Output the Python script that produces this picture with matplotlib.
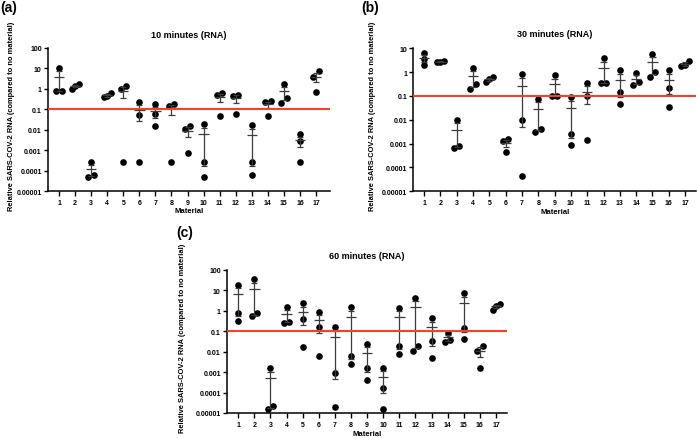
import numpy as np
import matplotlib
matplotlib.use("Agg")
import matplotlib.pyplot as plt
from matplotlib.ticker import FixedLocator, FixedFormatter, NullLocator

plt.rcParams['font.family'] = ['Liberation Sans', 'DejaVu Sans']
plt.rcParams['font.weight'] = 'bold'

materials = list(range(1, 18))

# three replicates per material, relative to no material
rna_10min = [
    [10, 0.8, 0.8], [1.0, 1.7, 1.35], [0.00005, 0.00027, 0.000065], [0.38, 0.62, 0.45],
    [1.4, 0.00028, 0.95], [0.23, 0.055, 0.00028], [0.18, 0.06, 0.015], [0.18, 0.00028, 0.15],
    [0.015, 0.0007, 0.011], [0.019, 0.00028, 0.000048], [0.65, 0.048, 0.5], [0.5, 0.06, 0.45],
    [0.017, 0.00028, 0.000065], [0.24, 0.048, 0.23], [0.21, 1.75, 0.37], [0.006, 0.0028, 0.00028],
    [7.0, 0.7, 3.9],
]
rna_30min = [
    [6.5, 3.5, 1.9], [2.6, 3.0, 2.7], [0.00065, 0.0102, 0.00083], [0.19, 1.5, 0.31],
    [0.37, 0.63, 0.52], [0.0015, 0.00044, 0.0013], [0.81, 0.0095, 0.000043], [0.0031, 0.078, 0.0043],
    [0.1, 0.75, 0.1], [0.093, 0.0026, 0.00087], [0.35, 0.1, 0.0014], [0.34, 3.8, 0.34],
    [1.23, 0.14, 0.045], [0.29, 0.92, 0.37], [0.62, 6.0, 1.05], [1.2, 0.22, 0.035],
    [1.8, 2.9, 1.9],
]
rna_60min = [
    [18.6, 0.79, 0.31], [0.54, 35, 0.76], [0.000016, 0.0016, 0.000021], [0.26, 1.48, 0.29],
    [2.3, 0.42, 0.017], [0.91, 0.16, 0.006], [0.16, 0.00087, 0.00002], [1.48, 0.0059, 0.0025],
    [0.025, 0.0016, 0.00042], [0.0016, 0.00017, 0.000016], [1.4, 0.018, 0.0078], [0.011, 4.4, 0.019],
    [0.43, 0.035, 0.0049], [0.031, 0.085, 0.037], [7.4, 0.15, 0.044], [0.02, 0.011, 0.0016],
    [1.1, 2.1, 1.75],
]

ytick_vals_a = [1e-5, 1e-4, 1e-3, 1e-2, 1e-1, 1, 10, 100]
ytick_labels_a = ["0.00001", "0.0001", "0.001", "0.01", "0.1", "1", "10", "100"]
ytick_vals_b = [1e-5, 1e-4, 1e-3, 1e-2, 1e-1, 1, 10]
ytick_labels_b = ["0.00001", "0.0001", "0.001", "0.01", "0.1", "1", "10"]

threshold = 0.1

W, H = 697, 439
fig = plt.figure(figsize=(W / 100, H / 100), dpi=100)


def rect(x0, x1, ytop, ybot):
    return [x0 / W, 1 - ybot / H, (x1 - x0) / W, (ybot - ytop) / H]


def jitter(vals, px_per_dec, min_px=6.0):
    # spread points that would overlap, like a scatter dot plot
    logs = np.log10(vals)
    order = np.argsort(logs)
    offs = np.zeros(len(vals))
    groups = [[order[0]]]
    for i in order[1:]:
        if (logs[i] - logs[groups[-1][-1]]) * px_per_dec < min_px:
            groups[-1].append(i)
        else:
            groups.append([i])
    for g in groups:
        if len(g) == 2:
            offs[g[0]], offs[g[1]] = -0.17, 0.17
        elif len(g) == 3:
            offs[g[0]], offs[g[1]], offs[g[2]] = -0.22, 0.0, 0.22
    return offs


def draw_panel(box, data, yticks, ylabels, xlim, title, tag, tag_xy, title_y, ylab_x, xlab_y):
    ax = fig.add_axes(rect(*box))
    ymin, ymax = yticks[0], yticks[-1]
    ax.set_yscale('log')
    ax.set_ylim(ymin, ymax)
    ax.set_xlim(*xlim)
    px_per_dec = (box[3] - box[2]) / (np.log10(ymax) - np.log10(ymin))

    for m, vals in zip(materials, data):
        vals = np.array(vals, dtype=float)
        xs = m + jitter(vals, px_per_dec)
        ax.plot(xs, vals, 'o', color='black', ms=4.8, mew=0, zorder=2)
        mean = vals.mean()
        sem = vals.std(ddof=1) / np.sqrt(len(vals))
        lo = max(mean - sem, ymin * 0.1)
        hi = mean + sem
        c = '#3c3c3c'
        ax.vlines(m, lo, hi, color=c, lw=0.9, zorder=3)
        ax.hlines(mean, m - 0.32, m + 0.32, color=c, lw=0.9, zorder=3)
        ax.hlines([lo, hi], m - 0.19, m + 0.19, color=c, lw=0.9, zorder=3)

    ax.axhline(threshold, color='#f5402c', lw=1.5, zorder=4)

    for s in ['top', 'right']:
        ax.spines[s].set_visible(False)
    for s in ['left', 'bottom']:
        ax.spines[s].set_linewidth(1.1)
    ax.yaxis.set_major_locator(FixedLocator(yticks))
    ax.yaxis.set_major_formatter(FixedFormatter(ylabels))
    ax.yaxis.set_minor_locator(NullLocator())
    ax.set_xticks(materials)
    ax.set_xticklabels([str(m) for m in materials])
    ax.tick_params(axis='both', labelsize=5, width=1.0, length=3, pad=1.5)
    ax.tick_params(axis='x', length=3.5, pad=2)

    cx = (box[0] + box[1]) / 2
    cy = (box[2] + box[3]) / 2
    fig.text(cx / W, 1 - title_y / H, title, ha='center', va='center', fontsize=6.5, fontweight='bold')
    fig.text(cx / W, 1 - xlab_y / H, 'Material', ha='center', va='center', fontsize=5.6, fontweight='bold')
    fig.text(ylab_x / W, 1 - (cy - 4) / H, 'Relative SARS-COV-2 RNA (compared to no material)',
             ha='center', va='center', rotation=90, fontsize=5.4, fontweight='bold')
    fig.text(tag_xy[0] / W, 1 - tag_xy[1] / H, tag, ha='left', va='center', fontsize=10, fontweight='bold')
    return ax


draw_panel((48, 330, 48.7, 192.3), rna_10min, ytick_vals_a, ytick_labels_a, (0.31, 17.87),
           '10 minutes (RNA)', '(a)', (0, 8), 35, 12, 212)
draw_panel((413.3, 696, 49.3, 192.3), rna_30min, ytick_vals_b, ytick_labels_b, (0.34, 17.67),
           '30 minutes (RNA)', '(b)', (361, 8), 34.3, 373, 212.7)
draw_panel((227, 507, 271, 414), rna_60min, ytick_vals_a, ytick_labels_a, (0.3, 17.68),
           '60 minutes (RNA)', '(c)', (176, 233), 256.7, 183, 435)

fig.savefig('out.png', dpi=100)
